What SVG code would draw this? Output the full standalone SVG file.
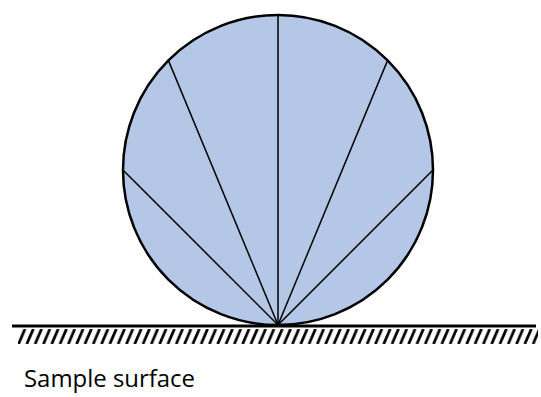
<svg xmlns="http://www.w3.org/2000/svg" width="541" height="397" viewBox="0 0 541 397">
<style>
.rad{stroke:#000;stroke-width:1.5;fill:none}
.h{stroke:#000;stroke-width:2.8}
.lbl{font-family:"Open Sans","Liberation Sans",sans-serif;font-size:24.5px;fill:#000}
</style>
<defs>
<pattern id="hatch" patternUnits="userSpaceOnUse" x="18" y="329" width="8.3" height="15">
<line class="h" x1="0.5" y1="15" x2="7" y2="0"/>
<line class="h" x1="-7.8" y1="15" x2="-1.3" y2="0"/>
<line class="h" x1="8.8" y1="15" x2="15.3" y2="0"/>
</pattern>
</defs>
<rect width="541" height="397" fill="#fff"/>
<g id="surface">
<rect x="18" y="329" width="520" height="15" fill="url(#hatch)"/>
<line x1="12" y1="326" x2="536" y2="326" stroke="#000" stroke-width="3"/>
</g>
<g id="sphere">
<circle cx="278" cy="170" r="155" fill="#b4c7e7" stroke="#000" stroke-width="2.5"/>
</g>
<g id="connectors">
<line class="rad" x1="278" y1="325" x2="278" y2="15"/>
<line class="rad" x1="278" y1="325" x2="168.4" y2="60.4"/>
<line class="rad" x1="278" y1="325" x2="387.6" y2="60.4"/>
<line class="rad" x1="278" y1="325" x2="123" y2="170"/>
<line class="rad" x1="278" y1="325" x2="433" y2="170"/>
</g>
<g id="label">
<text class="lbl" x="24" y="387" textLength="171" lengthAdjust="spacingAndGlyphs">Sample surface</text>
</g>
</svg>
